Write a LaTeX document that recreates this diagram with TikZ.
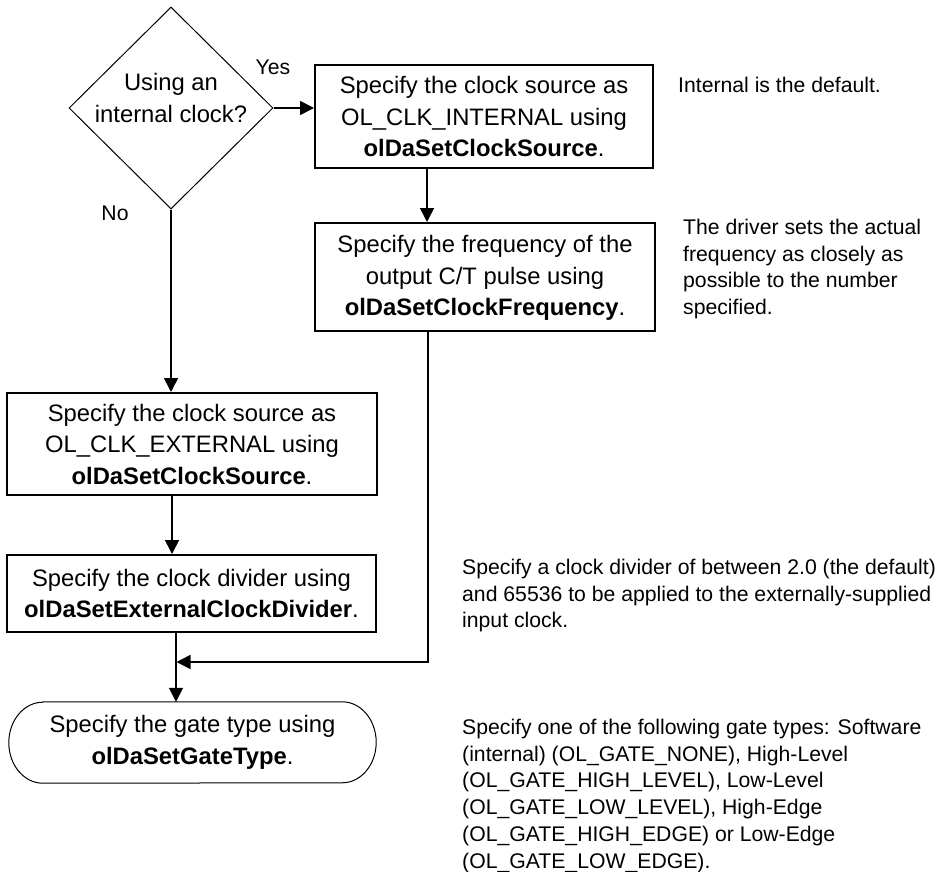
\documentclass[tikz,border=0pt]{standalone}
\usepackage{fontspec}
\setmainfont{Liberation Sans}
\usetikzlibrary{shapes.geometric,arrows.meta}
\begin{document}
\begin{tikzpicture}[x=1pt,y=-1pt,
  boxfont/.style={font=\fontsize{23.8pt}{31.5pt}\selectfont},
  notefont/.style={font=\fontsize{21.2pt}{26.7pt}\selectfont},
  procbox/.style={draw, line width=2pt, boxfont, align=center, inner sep=0pt},
  arr/.style={line width=1.6pt, -{Triangle[length=14pt,width=14pt]}},
  note/.style={notefont, align=left, inner sep=0pt, anchor=north west}
]
\useasboundingbox (0,0) rectangle (939,872);

% decision
\node[diamond, draw, line width=1pt, minimum width=204pt, minimum height=202pt, inner sep=0pt] (dia) at (171,108) {};
\node[boxfont, align=center, inner sep=0pt] (diatext) at (171,98) {Using an\\internal clock?};

% process boxes
\node[procbox, minimum width=338pt, minimum height=103pt] (box1) at (484,116.5)
  {Specify the clock source as\\OL\_CLK\_INTERNAL using\\\textbf{olDaSetClockSource}.};
\node[procbox, minimum width=340pt, minimum height=108pt, text depth=3pt] (box2) at (485,277)
  {Specify the frequency of the\\output C/T pulse using\\\textbf{olDaSetClockFrequency}.};
\node[procbox, minimum width=370pt, minimum height=102pt] (box3) at (192,444)
  {Specify the clock source as\\OL\_CLK\_EXTERNAL using\\\textbf{olDaSetClockSource}.};
\node[procbox, minimum width=369pt, minimum height=77pt] (box4) at (191.5,593.5)
  {Specify the clock divider using\\\textbf{olDaSetExternalClockDivider}.};

% terminator
\node[boxfont, align=center, inner sep=0pt, minimum width=367pt, minimum height=81pt] (term) at (192.5,742.5)
  {Specify the gate type using\\\textbf{olDaSetGateType}.};
\draw[line width=1pt] ([xshift=34pt]term.north west) -- ([xshift=-34pt]term.north east)
  arc[start angle=90, end angle=-90, x radius=34pt, y radius=40.5pt]
  -- ([xshift=34pt]term.south west)
  arc[start angle=270, end angle=90, x radius=34pt, y radius=40.5pt] -- cycle;

% labels
\node[notefont, inner sep=0pt] (yes) at (273,67) {Yes};
\node[notefont, inner sep=0pt] (no) at (115,213) {No};

% connectors
\draw[arr] (dia.east) -- (box1.west |- dia.east);
\draw[arr] (dia.south) -- (dia.south |- box3.north);
\draw[arr] ([xshift=-57pt]box1.south) -- ([xshift=-57pt]box1.south |- box2.north);
\draw[arr] ([xshift=-20pt]box3.south) -- ([xshift=-20pt]box3.south |- box4.north);
\draw[arr] ([xshift=-15.5pt]box4.south) -- ([xshift=-15.5pt]box4.south |- term.north);
\coordinate (merge) at (176.5,662);
\draw[arr] ([xshift=-57pt]box2.south) |- (merge);

% notes
\node[note] (n1) at (678,77) {Internal is the default.};
\node[note] (n2) at (683,219) {The driver sets the actual\\frequency as closely as\\possible to the number\\specified.};
\node[note] (n3) at (462,559) {Specify a clock divider of between 2.0 (the default)\\and 65536 to be applied to the externally-supplied\\input clock.};
\node[note] (n4) at (462,719) {Specify one of the following gate types: Software\\(internal) (OL\_GATE\_NONE), High-Level\\(OL\_GATE\_HIGH\_LEVEL), Low-Level\\(OL\_GATE\_LOW\_LEVEL), High-Edge\\(OL\_GATE\_HIGH\_EDGE) or Low-Edge\\(OL\_GATE\_LOW\_EDGE).};
\end{tikzpicture}
\end{document}
